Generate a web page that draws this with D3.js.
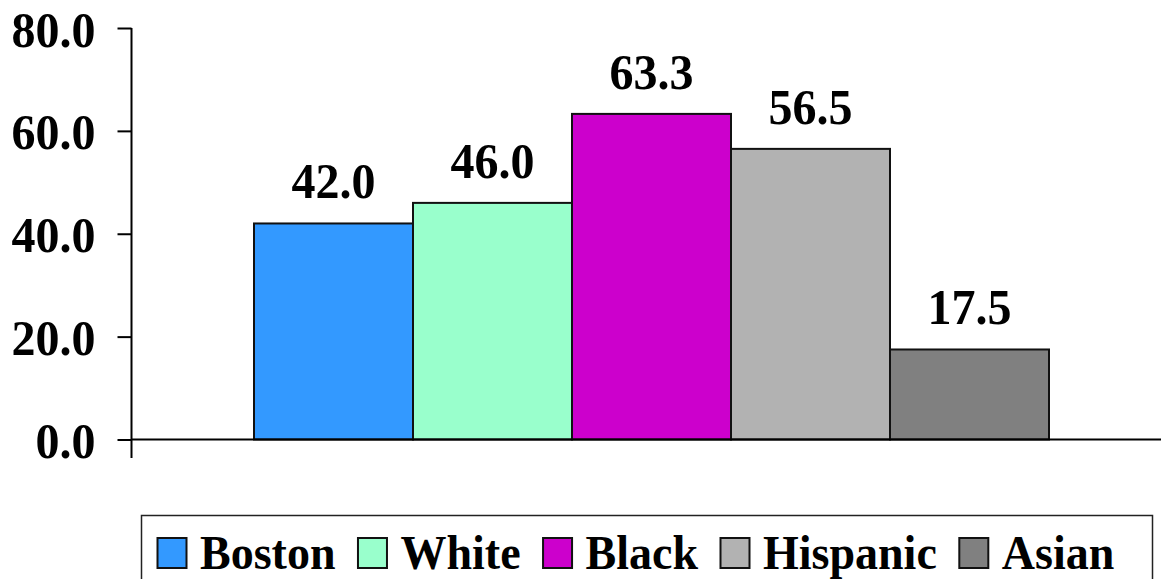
<!DOCTYPE html>
<html>
<head>
<meta charset="utf-8">
<script src="https://cdn.jsdelivr.net/npm/d3@7"></script>
<style>
  html, body { margin: 0; padding: 0; background: #fff; }
  svg { display: block; }
  text { font-family: "Liberation Serif", "Times New Roman", serif; font-weight: bold; fill: #000; }
</style>
</head>
<body>
<svg id="chart" width="1161" height="579"></svg>
<script>
// Series shown as side-by-side bars, one per group
const groups = ["Boston", "White", "Black", "Hispanic", "Asian"];
const values = [42.0, 46.0, 63.3, 56.5, 17.5];
const colors = ["#3399FF", "#99FFCC", "#CC00CC", "#B2B2B2", "#808080"];
const yTicks = [0, 20, 40, 60, 80];

const svg = d3.select("#chart");
const stretch = 1.06; // slightly tall bold type

const axisX = 131.5;
const y = d3.scaleLinear().domain([0, 80]).range([439.5, 28]);
const x = d3.scaleBand().domain(groups).range([254, 1049]).padding(0);

// Bars
svg.append("g")
  .selectAll("rect")
  .data(groups)
  .join("rect")
  .attr("x", d => x(d))
  .attr("y", (d, i) => y(values[i]))
  .attr("width", x.bandwidth())
  .attr("height", (d, i) => y(0) - y(values[i]))
  .attr("fill", (d, i) => colors[i])
  .attr("stroke", "#111")
  .attr("stroke-width", 2);

// Value labels
svg.append("g")
  .selectAll("g")
  .data(groups)
  .join("g")
  .attr("transform", (d, i) =>
    `translate(${x(d) + x.bandwidth() / 2},${y(values[i]) - 25}) scale(1,${stretch})`)
  .append("text")
  .attr("text-anchor", "middle")
  .style("font-size", "48px")
  .text((d, i) => values[i].toFixed(1));

// Y axis
const yAxis = d3.axisLeft(y)
  .tickValues(yTicks)
  .tickFormat(d3.format(".1f"))
  .tickSize(14)
  .tickPadding(22);
const gy = svg.append("g").attr("transform", `translate(${axisX},0)`).call(yAxis);
gy.select(".domain").remove();
gy.selectAll(".tick line").attr("stroke", "#000").attr("stroke-width", 2);
gy.selectAll(".tick text")
  .style("font-size", "48px")
  .style("font-family", "'Liberation Serif', 'Times New Roman', serif")
  .style("font-weight", "bold")
  .attr("fill", "#000")
  .attr("x", null)
  .attr("dy", null)
  .attr("y", 0)
  .attr("transform", `translate(-36,18) scale(1,${stretch})`);

// Axis lines
svg.append("line")
  .attr("x1", axisX).attr("x2", axisX)
  .attr("y1", y(80)).attr("y2", 458)
  .attr("stroke", "#000").attr("stroke-width", 2);
svg.append("line")
  .attr("x1", axisX).attr("x2", 1161)
  .attr("y1", y(0)).attr("y2", y(0))
  .attr("stroke", "#000").attr("stroke-width", 2);

// Legend
const legend = svg.append("g");
legend.append("rect")
  .attr("x", 141.5).attr("y", 515.5)
  .attr("width", 1011).attr("height", 80)
  .attr("fill", "#fff")
  .attr("stroke", "#222").attr("stroke-width", 1.5);

let cursor = 157;
groups.forEach((g, i) => {
  legend.append("rect")
    .attr("x", cursor + 0.5).attr("y", 538)
    .attr("width", 29).attr("height", 30)
    .attr("fill", colors[i])
    .attr("stroke", "#111").attr("stroke-width", 2);
  const t = legend.append("text")
    .attr("transform", `translate(${cursor + 43},569) scale(1,${stretch})`)
    .style("font-size", "46px")
    .text(g);
  const w = t.node().getComputedTextLength();
  cursor = cursor + 43 + w + 22;
});
</script>
</body>
</html>
